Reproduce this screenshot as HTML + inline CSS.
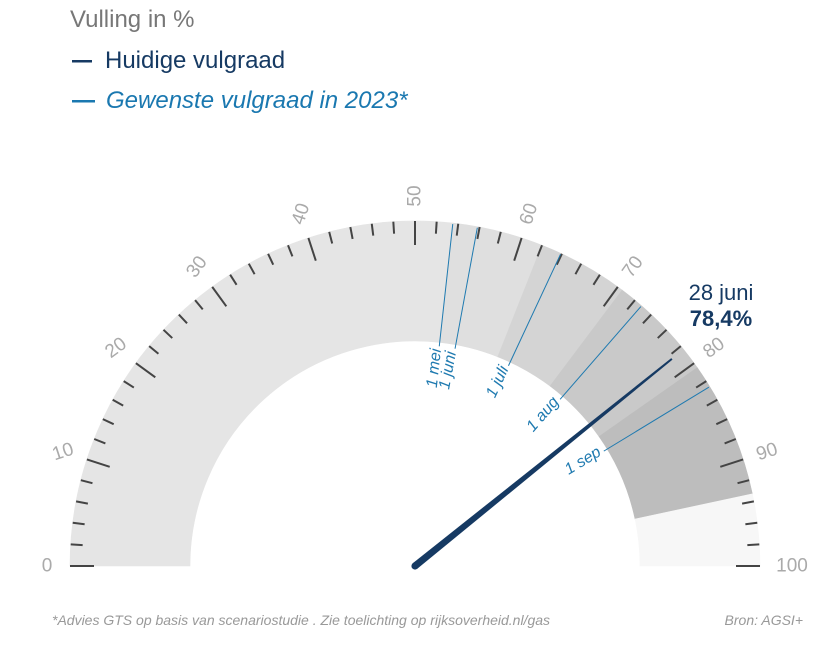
<!DOCTYPE html>
<html><head><meta charset="utf-8"><style>
html,body{margin:0;padding:0;background:#fff;}
body{width:830px;height:664px;overflow:hidden;font-family:"Liberation Sans",sans-serif;}
</style></head><body>
<svg id="s" width="830" height="664" viewBox="0 0 830 664" xmlns="http://www.w3.org/2000/svg" font-family="Liberation Sans, sans-serif">
<g id="bands"></g>
<g id="ticks"></g>
<g id="dl"></g>
<text x="70" y="27" font-size="24" fill="#777">Vulling in %</text>
<rect x="72" y="60" width="20" height="2.5" fill="#163a63"/>
<text x="105" y="68" font-size="24" fill="#163a63">Huidige vulgraad</text>
<rect x="72" y="100" width="23" height="2.5" fill="#1a78b0"/>
<text x="106" y="108" font-size="24" font-style="italic" fill="#1a78b0">Gewenste vulgraad in 2023*</text>
<g font-size="19" fill="#aaa" text-anchor="middle" dominant-baseline="central">
<text x="47" y="566">0</text>
<text transform="translate(63,452) rotate(-18)">10</text>
<text transform="translate(116,348) rotate(-36)">20</text>
<text transform="translate(197,267) rotate(-54)">30</text>
<text transform="translate(301,214) rotate(-72)">40</text>
<text transform="translate(415,196) rotate(-90)">50</text>
<text transform="translate(529,214) rotate(-72)">60</text>
<text transform="translate(633,267) rotate(-54)">70</text>
<text transform="translate(714,348) rotate(-36)">80</text>
<text transform="translate(767,452) rotate(-18)">90</text>
<text x="792" y="566">100</text>
</g>
<g font-size="16" font-style="italic" fill="#1f7ab0" text-anchor="end">
<text transform="translate(439,349) rotate(-83.7)" dy="2">1 mei</text>
<text transform="translate(454,352) rotate(-79.6)" dy="2">1 juni</text>
<text transform="translate(507,368) rotate(-65)" dy="2">1 juli</text>
<text transform="translate(558,401) rotate(-49)" dy="2">1 aug</text>
<text transform="translate(601,453) rotate(-31.3)" dy="2">1 sep</text>
</g>
<text x="721" y="300" font-size="22" fill="#163a63" text-anchor="middle">28 juni</text>
<text x="721" y="326" font-size="22" font-weight="bold" fill="#163a63" text-anchor="middle">78,4%</text>
<g id="needle"></g>
<text x="52" y="625" font-size="14" font-style="italic" fill="#999">*Advies GTS op basis van scenariostudie . Zie toelichting op rijksoverheid.nl/gas</text>
<text x="803" y="625" font-size="14" font-style="italic" fill="#999" text-anchor="end">Bron: AGSI+</text>
</svg>
<script>
var cx=415,cy=566,R=345,r=225,NS="http://www.w3.org/2000/svg";
function pt(v,rad){var a=Math.PI*1.8*v/180;return [cx-rad*Math.cos(a),cy-rad*Math.sin(a)];}
function el(p,t,at){var e=document.createElementNS(NS,t);for(var k in at)e.setAttribute(k,at[k]);document.getElementById(p).appendChild(e);}
var bands=[[0,53.5,"#e5e5e5"],[53.5,62,"#dfdfdf"],[62,70.5,"#d4d4d4"],[70.5,80.5,"#c9c9c9"],[80.5,93.3,"#bdbdbd"],[93.3,100,"#f7f7f7"]];
bands.forEach(function(b){var a=pt(b[0],R),c=pt(b[1],R),d=pt(b[1],r),e=pt(b[0],r);
el("bands","path",{d:"M"+a+" A"+R+","+R+" 0 0 1 "+c+" L"+d+" A"+r+","+r+" 0 0 0 "+e+"Z",fill:b[2],stroke:b[2],"stroke-width":0.6});});
for(var v=0;v<=100;v+=2){var L=(v%10==0)?24:12;var a=pt(v,R),b=pt(v,R-L);
el("ticks","line",{x1:a[0],y1:a[1],x2:b[0],y2:b[1],stroke:"#444","stroke-width":2});}
[53.5,55.8,63.9,72.8,82.6].forEach(function(v){var a=pt(v,221),b=pt(v,344);
el("dl","line",{x1:a[0],y1:a[1],x2:b[0],y2:b[1],stroke:"#1f7ab0","stroke-width":1});});
(function(){var v=78.4,a=Math.PI*1.8*v/180,ux=-Math.cos(a),uy=-Math.sin(a),px=-uy,py=ux,L=330;
var w0=3.6,w1=1;var tx=cx+ux*L,ty=cy+uy*L;
el("needle","path",{d:"M"+(cx+px*w0)+","+(cy+py*w0)+" L"+(tx+px*w1)+","+(ty+py*w1)+" L"+(tx-px*w1)+","+(ty-py*w1)+" L"+(cx-px*w0)+","+(cy-py*w0)+"Z",fill:"#163a63"});
el("needle","circle",{cx:cx,cy:cy,r:3.6,fill:"#163a63"});})();
</script>
</body></html>
